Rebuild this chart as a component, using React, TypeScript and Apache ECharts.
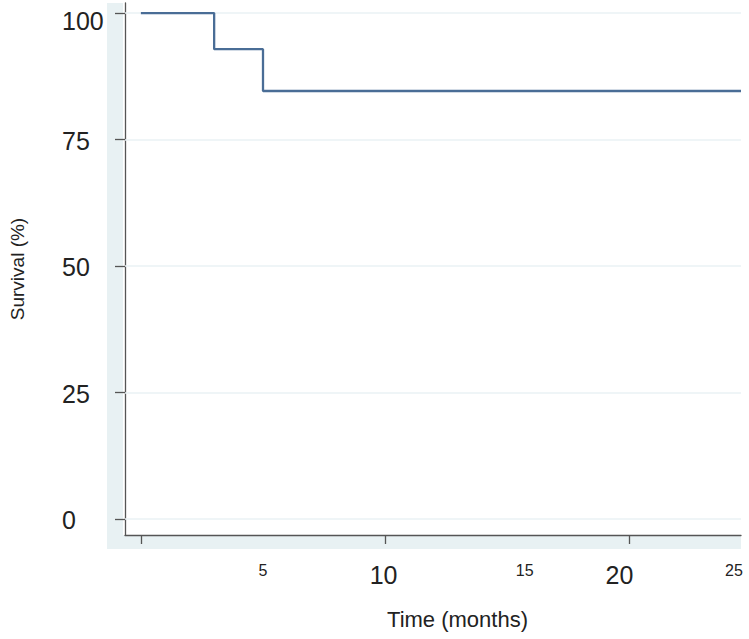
import React, { useEffect, useRef } from "react";
import * as echarts from "echarts";

// Kaplan–Meier survival data (time in months, survival in %)
const timePoints = [0, 3, 5, 24.57];
const survivalValues = [100, 92.86, 84.6, 84.6];

const xMin = -0.65;
const xMax = 24.57;
const yMin = -3.2;
const yMax = 102;

const yTickValues = [0, 25, 50, 75, 100];
const xTickValues = [0, 10, 20];
const xLabelValues = [5, 10, 15, 20, xMax];
const xLabelTexts = ["5", "10", "15", "20", "25"];
const xLabelStyles = ["s5", "b10", "s15", "b20", "s25"];

export default function App() {
  const ref = useRef<HTMLDivElement>(null);

  useEffect(() => {
    if (!ref.current) return;
    const chart = echarts.init(ref.current, null, { renderer: "svg" });
    const font = "'Liberation Sans', Arial, Helvetica, sans-serif";
    const seriesData = timePoints.map((t, i) => [t, survivalValues[i]]);

    chart.setOption({
      animation: false,
      backgroundColor: "#ffffff",
      textStyle: { fontFamily: font },
      graphic: [
        {
          type: "rect",
          z: -10,
          shape: { x: 107, y: 3, width: 634, height: 546 },
          style: { fill: "#e8f1f3" },
          silent: true,
        },
        {
          type: "rect",
          z: -9,
          shape: { x: 123, y: 3, width: 618, height: 532 },
          style: { fill: "#ffffff" },
          silent: true,
        },
      ],
      grid: { left: 123, right: 8, top: 3, bottom: 104, containLabel: false },
      xAxis: {
        type: "value",
        min: xMin,
        max: xMax,
        name: "Time (months)",
        nameLocation: "middle",
        nameGap: 73,
        nameTextStyle: {
          fontSize: 22,
          color: "#222",
          fontFamily: font,
          padding: [0, 0, 0, 49],
        },
        axisLine: { show: true, onZero: false, lineStyle: { color: "#555", width: 1.3 } },
        axisTick: {
          show: true,
          inside: false,
          length: 9,
          customValues: xTickValues,
          lineStyle: { color: "#555", width: 1.3 },
        },
        splitLine: { show: false },
        axisLabel: {
          customValues: xLabelValues,
          margin: 27,
          showMinLabel: true,
          showMaxLabel: true,
          formatter: (v: number) => {
            const idx = xLabelValues.findIndex((x) => Math.abs(x - v) < 1e-6);
            if (idx < 0) return "";
            return `{${xLabelStyles[idx]}|${xLabelTexts[idx]}}`;
          },
          rich: {
            s5: { fontSize: 16, color: "#222", fontFamily: font },
            b10: { fontSize: 25, color: "#222", fontFamily: font, padding: [0, 3, 0, 0] },
            s15: { fontSize: 16, color: "#222", fontFamily: font, padding: [0, 0, 0, 35] },
            b20: { fontSize: 25, color: "#222", fontFamily: font, padding: [0, 20, 0, 0] },
            s25: { fontSize: 16, color: "#222", fontFamily: font, padding: [0, 14, 0, 0] },
          },
        },
      },
      yAxis: {
        type: "value",
        min: yMin,
        max: yMax,
        name: "Survival (%)",
        nameLocation: "middle",
        nameGap: 98,
        nameTextStyle: { fontSize: 19, color: "#222", fontFamily: font },
        axisLine: { show: true, onZero: false, lineStyle: { color: "#555", width: 1.3 } },
        axisTick: {
          show: true,
          inside: false,
          length: 10,
          customValues: yTickValues,
          lineStyle: { color: "#555", width: 1.3 },
        },
        splitLine: { show: false },
        axisLabel: {
          customValues: yTickValues,
          align: "left",
          margin: 63,
          formatter: (v: number) => (v === 100 ? `{t|${v}}` : `{n|${v}}`),
          rich: {
            n: { fontSize: 25, color: "#222", fontFamily: font, padding: [3, 0, 0, 0] },
            t: { fontSize: 25, color: "#222", fontFamily: font, padding: [16, 0, 0, 0] },
          },
        },
      },
      series: [
        {
          type: "line",
          step: "end",
          data: seriesData,
          symbol: "none",
          lineStyle: { color: "#4a6d96", width: 2.3 },
          z: 3,
          markLine: {
            silent: true,
            symbol: "none",
            label: { show: false },
            lineStyle: { color: "#eaf2f4", width: 1.5, type: "solid" },
            data: yTickValues.map((v) => ({ yAxis: v })),
            z: 1,
          },
        },
      ],
    });

    return () => chart.dispose();
  }, []);

  return (
    <div
      ref={ref}
      style={{ position: "fixed", left: 0, top: 0, width: 749, height: 639 }}
    />
  );
}
